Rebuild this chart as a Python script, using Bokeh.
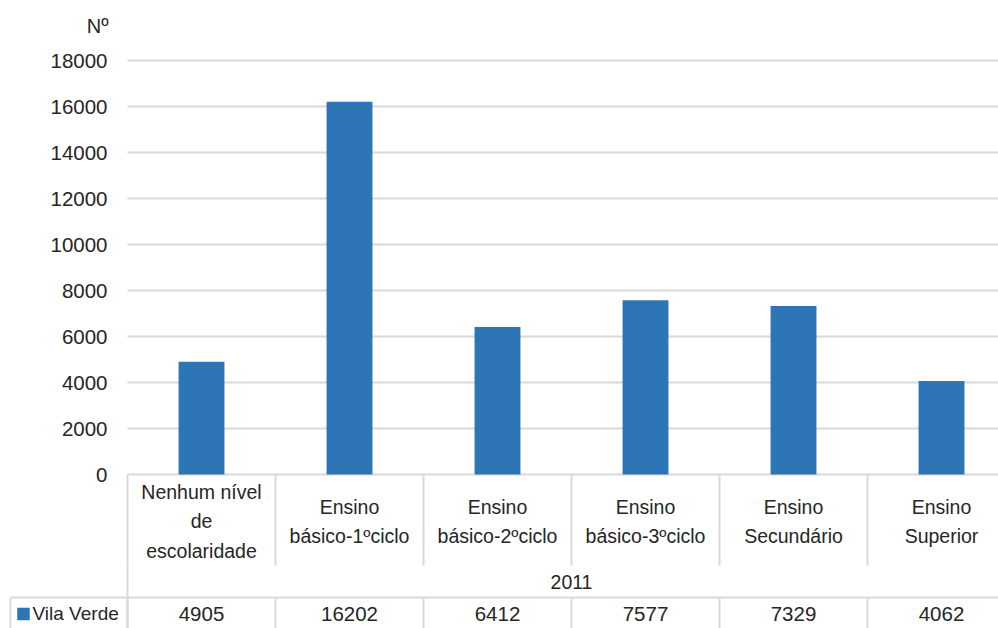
from bokeh.plotting import figure
from bokeh.models import Range1d
from bokeh.core.properties import value
from bokeh.embed import file_html
from bokeh.resources import INLINE

# ---- data ----
categories = ["Nenhum nível de escolaridade", "Ensino básico-1ºciclo", "Ensino básico-2ºciclo",
              "Ensino básico-3ºciclo", "Ensino Secundário", "Ensino Superior"]
category_labels = ["Nenhum nível\nde\nescolaridade", "Ensino\nbásico-1ºciclo", "Ensino\nbásico-2ºciclo",
                   "Ensino\nbásico-3ºciclo", "Ensino\nSecundário", "Ensino\nSuperior"]
series_name = "Vila Verde"
year_label = "2011"
values = [4905, 16202, 6412, 7577, 7329, 4062]
y_ticks = [0, 2000, 4000, 6000, 8000, 10000, 12000, 14000, 16000, 18000]
y_unit = "Nº"

# ---- style / layout ----
W, H = 998, 628
LEFT = 127          # page column where plot area starts
CAT_PX = 148        # px per category
ZERO_PX = 474       # page row of value 0
PPU = 414 / 18000   # px per value unit
BAR = "#2E75B6"
GRID = "#D9D9D9"
TXT = "#262626"
FONT = value("Liberation Sans")


def vy(row):
    """page pixel row -> value coordinate"""
    return (ZERO_PX - row) / PPU


def cx(col):
    """page pixel column -> category coordinate"""
    return (col - LEFT) / CAT_PX


n = len(categories)
xs = [i + 0.5 for i in range(n)]
x_end = cx(W)

p = figure(width=W, height=H, output_backend="svg", toolbar_location=None,
           x_range=Range1d(cx(0), x_end), y_range=Range1d(vy(H), vy(0)),
           min_border=0)
p.outline_line_color = None
p.axis.visible = False
p.grid.visible = False

# value gridlines (plot area only)
nt = len(y_ticks)
p.segment(x0=[0] * nt, y0=y_ticks, x1=[x_end] * nt, y1=y_ticks, line_color=GRID, line_width=2)

# value tick labels and unit
p.text(x=[cx(107)] * nt, y=y_ticks, text=[str(t) for t in y_ticks], text_align="right",
       text_baseline="middle", text_font=FONT, text_font_size="20.5px", text_color=TXT)
p.text(x=[cx(108)], y=[vy(25)], text=[y_unit], text_align="right", text_baseline="middle",
       text_font=FONT, text_font_size="20px", text_color=TXT)

# bars
p.vbar(x=xs, top=values, width=0.31, bottom=0, color=BAR, line_color=None)

# ---- data table ----
bounds = list(range(n))
p.segment(x0=bounds, y0=[vy(ZERO_PX)] * n, x1=bounds, y1=[vy(565)] * n, line_color=GRID, line_width=2)
p.segment(x0=[0], y0=[vy(565)], x1=[0], y1=[vy(H)], line_color=GRID, line_width=2)
p.segment(x0=bounds, y0=[vy(597)] * n, x1=bounds, y1=[vy(H)] * n, line_color=GRID, line_width=2)
p.segment(x0=[cx(10)], y0=[vy(597)], x1=[x_end], y1=[vy(597)], line_color=GRID, line_width=2)
p.segment(x0=[cx(10)], y0=[vy(597)], x1=[cx(10)], y1=[vy(H)], line_color=GRID, line_width=2)

p.text(x=xs, y=[vy(521)] * n, text=category_labels, text_align="center", text_baseline="middle",
       text_font=FONT, text_font_size="19.5px", text_color=TXT, text_line_height=1.33)
p.text(x=[n / 2], y=[vy(581)], text=[year_label], text_align="center", text_baseline="middle",
       text_font=FONT, text_font_size="19.5px", text_color=TXT)
p.text(x=xs, y=[vy(613)] * n, text=[str(v) for v in values], text_align="center", text_baseline="middle",
       text_font=FONT, text_font_size="20.5px", text_color=TXT)

# legend key in the table
p.scatter(x=[cx(23)], y=[vy(613.5)], marker="square", size=12.5, color=BAR, line_color=None)
p.text(x=[cx(32)], y=[vy(613)], text=[series_name], text_align="left", text_baseline="middle",
       text_font=FONT, text_font_size="19px", text_color=TXT)

open("out.html", "w").write(file_html(p, INLINE))
